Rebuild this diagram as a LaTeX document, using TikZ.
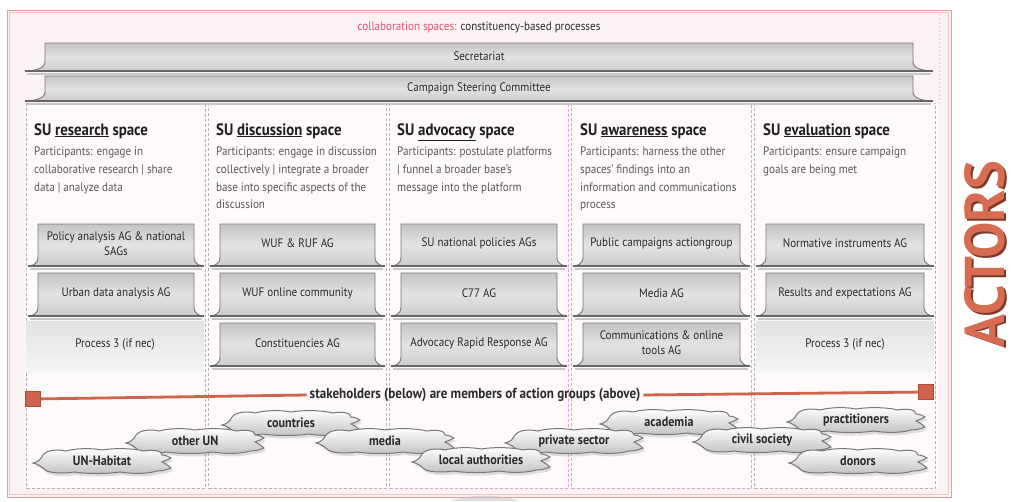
\documentclass[tikz,border=0pt]{standalone}
\usepackage{fontspec}
\usepackage{graphicx}
\setmainfont{PT Sans}[FakeStretch=0.9]
\usetikzlibrary{shadows}
\definecolor{framered}{HTML}{E49C9C}
\definecolor{titlered}{HTML}{E0506E}
\definecolor{bgpink}{HTML}{FCF4F4}
\definecolor{colbg}{HTML}{FEFAFA}
\definecolor{dashgrey}{HTML}{B4B4B4}
\definecolor{dashpink}{HTML}{E3A0DC}
\definecolor{edgegrey}{HTML}{777777}
\definecolor{darkedge}{HTML}{666666}
\definecolor{linered}{HTML}{CF634C}
\definecolor{actred}{HTML}{D86C52}
\definecolor{actdark}{HTML}{7E3828}
\definecolor{bodygrey}{HTML}{585858}
\definecolor{textdark}{HTML}{2A2A2A}
\tikzset{
  tabfill/.style={draw=edgegrey, line width=0.9pt, top color=black!23, bottom color=black!20, middle color=black!11},
  tabedge/.style={draw=darkedge, line width=2.6pt},
  tabshadow/.style={draw=black!22, line width=2pt},
  agtext/.style={align=center, text=textdark, font=\fontsize{12.3}{15}\selectfont, inner sep=0pt},
  bartext/.style={text=textdark, font=\fontsize{12.3}{13}\selectfont, inner sep=0pt},
  coltitle/.style={anchor=base west, text=black!88, font=\bfseries\fontsize{16.5}{17}\selectfont, inner sep=0pt},
  colbody/.style={anchor=north west, align=left, text=bodygrey, font=\fontsize{12.3}{17.6}\selectfont, inner sep=0pt},
  colgrey/.style={draw=dashgrey, line width=0.8pt, dash pattern=on 3pt off 2pt},
  colpink/.style={draw=dashpink, line width=0.8pt, dash pattern=on 3pt off 2pt},
  procfill/.style={top color=black!11, bottom color=black!4},
  cloudfill/.style={draw=edgegrey, line width=1pt, top color=white, bottom color=black!24},
  cloudshadow/.style={fill=black!40, opacity=0.3},
  stake/.style={inner sep=0pt, text=textdark, font=\bfseries\fontsize{13.5}{13.5}\selectfont},
  redsq/.style={fill=linered, draw=linered!80!black, line width=0.5pt, minimum size=15pt, inner sep=0pt},
  redline/.style={draw=linered, line width=2.8pt},
}
\newcommand{\tabbox}[5]{%
  \draw[tabshadow] ({#1+2},{#4+2.6}) -- ({#2-2},{#4+2.6});
  \path[tabfill] ({#1+#5},{#3}) -- ({#2-#5},{#3}) -- ({#2-#5},{#4-9}) .. controls ({#2-#5},{#4-2}) and ({#2-0.4*#5},{#4}) .. ({#2},{#4}) -- ({#1},{#4}) .. controls ({#1+0.4*#5},{#4}) and ({#1+#5},{#4-2}) .. ({#1+#5},{#4-9}) -- cycle;
  \draw[tabedge] ({#1},{#4}) -- ({#2},{#4});
}
\newcommand{\agbox}[6]{%
  \tabbox{#2+3}{#3-3}{#4}{#5}{10}
  \node[agtext] (#1) at ({(#2+#3)/2},{(#4+#5)/2-1.5}) {#6};
}
\newcommand{\cloudshape}[1]{%
  \path[#1] (-69,2)
  .. controls (-64,1) and (-61,-2) .. (-59,-6)
  .. controls (-55,-11) and (-45,-12) .. (-36,-10)
  .. controls (-25,-13) and (-10,-13) .. (0,-11)
  .. controls (12,-13) and (30,-13) .. (42,-10)
  .. controls (52,-12) and (60,-10) .. (60,-6)
  .. controls (64,-6) and (67,-4) .. (69,-3)
  .. controls (66,-1) and (62,0) .. (60,1)
  .. controls (64,3) and (67,5) .. (69,7)
  .. controls (64,9) and (60,10) .. (55,10)
  .. controls (45,13) and (30,13) .. (18,11)
  .. controls (5,13) and (-15,13) .. (-28,11)
  .. controls (-40,13) and (-55,12) .. (-58,8)
  .. controls (-60,6) and (-64,3) .. (-69,2) -- cycle;%
}
\newcommand{\stakecloud}[4]{%
  \begin{scope}[shift={(#2,#3)}]
    \cloudshape{cloudshadow, shift={(2,3)}}
    \cloudshape{cloudfill}
  \end{scope}
  \node[stake] (#1) at (#2,#3) {#4};
}
\begin{document}
\begin{tikzpicture}[x=1pt,y=-1pt]
\useasboundingbox (0,0) rectangle (1011,501);
\fill[white] (0,0) rectangle (1011,501);
% frame
\fill[bgpink] (7,10) rectangle (951,497);
\fill[colbg] (25,103) rectangle (937,488);
\draw[framered, line width=0.9pt] (7,10) rectangle (951,497);
\draw[framered!60, line width=0.6pt] (9.5,12.5) rectangle (948.5,494.5);
\draw[dashgrey!60, line width=0.6pt, dash pattern=on 2pt off 2pt] (939,14) -- (939,103);
% columns
\draw[colgrey] (26.5,103) -- (26.5,488) -- (205.5,488) -- (205.5,103);
\draw[colgrey] (208.5,103) -- (208.5,488) -- (386.5,488) -- (386.5,103);
\draw[colgrey] (754.5,103) -- (754.5,488) -- (935.5,488) -- (935.5,103);
\draw[colpink] (389.5,103) -- (389.5,488) -- (568.5,488) -- (568.5,103);
\draw[colpink] (571.5,103) -- (571.5,488) -- (751.5,488) -- (751.5,103);
% title
\node[inner sep=0pt, font=\fontsize{12.3}{12}\selectfont, text=textdark] (title) at (479,27) {\textcolor{titlered}{collaboration spaces:} constituency-based processes};
% bars
\tabbox{25}{933}{43}{71}{20}
\node[bartext] (sec) at (479,56) {Secretariat};
\tabbox{25}{933}{76}{101}{20}
\node[bartext] (csc) at (479,88.5) {Campaign Steering Committee};
% column headings
\node[coltitle] (t1) at (34,135) {SU \underline{research} space};
\node[coltitle] (t2) at (216,135) {SU \underline{discussion} space};
\node[coltitle] (t3) at (397,135) {SU \underline{advocacy} space};
\node[coltitle] (t4) at (580,135) {SU \underline{awareness} space};
\node[coltitle] (t5) at (763,135) {SU \underline{evaluation} space};
\node[colbody] (b1) at (34,147) {Participants: engage in\\collaborative research | share\\data | analyze data};
\node[colbody] (b2) at (216,147) {Participants: engage in discussion\\collectively | integrate a broader\\base into specific aspects of the\\discussion};
\node[colbody] (b3) at (397,147) {Participants: postulate platforms\\| funnel a broader base's\\message into the platform};
\node[colbody] (b4) at (580,147) {Participants: harness the other\\spaces' findings into an\\information and communications\\process};
\node[colbody] (b5) at (763,147) {Participants: ensure campaign\\goals are being met};
% process 3 areas
\fill[procfill] (26,321) rectangle (204,372);
\fill[procfill] (756,321) rectangle (934,372);
\node[agtext] (p1) at (115,344) {Process 3 (if nec)};
\node[agtext] (p5) at (845,344) {Process 3 (if nec)};
% action groups row 1
\agbox{a11}{25}{207}{224}{266}{Policy analysis AG \& national\\SAGs}
\agbox{a21}{207}{388}{224}{266}{WUF \& RUF AG}
\agbox{a31}{388}{570}{224}{266}{SU national policies AGs}
\agbox{a41}{570}{753}{224}{266}{Public campaigns actiongroup}
\agbox{a51}{753}{937}{224}{266}{Normative instruments AG}
% row 2
\agbox{a12}{25}{207}{273}{316}{Urban data analysis AG}
\agbox{a22}{207}{388}{273}{316}{WUF online community}
\agbox{a32}{388}{570}{273}{316}{C77 AG}
\agbox{a42}{570}{753}{273}{316}{Media AG}
\agbox{a52}{753}{937}{273}{316}{Results and expectations AG}
% row 3
\agbox{a23}{207}{388}{323}{366}{Constituencies AG}
\agbox{a33}{388}{570}{323}{366}{Advocacy Rapid Response AG}
\agbox{a43}{570}{753}{323}{366}{Communications \& online\\tools AG}
% stakeholders line
\node[inner sep=3pt, text=textdark, font=\bfseries\fontsize{14.5}{14.5}\selectfont] (st) at (475,395) {stakeholders (below) are members of action groups (above)};
\node[redsq] (sqL) at (33,399) {};
\node[redsq] (sqR) at (926,392) {};
\draw[redline] (sqL) -- (st.west);
\draw[redline] (st.east) -- (sqR);
% stakeholder clouds
\stakecloud{countries}{291}{423}{countries}
\stakecloud{academia}{669}{422}{academia}
\stakecloud{practitioners}{856}{420}{practitioners}
\stakecloud{otherun}{195}{441}{other UN}
\stakecloud{media}{385}{441}{media}
\stakecloud{private}{574}{441}{private sector}
\stakecloud{civil}{762}{440}{civil society}
\stakecloud{unhabitat}{102}{461}{UN-Habitat}
\stakecloud{local}{481}{460}{local authorities}
\stakecloud{donors}{858}{461}{donors}
% bottom hint of arrow
\fill[black!25, opacity=0.5] (450,501) .. controls (470,494) and (500,494) .. (520,501) -- cycle;
% ACTORS
\node[rotate=90, inner sep=0pt, text=actdark] (actorsshadow) at (986.5,255.5) {\resizebox{186pt}{40pt}{\bfseries ACTORS}};
\node[rotate=90, inner sep=0pt, text=actred] (actors) at (985,254) {\resizebox{186pt}{40pt}{\bfseries ACTORS}};
\end{tikzpicture}
\end{document}
